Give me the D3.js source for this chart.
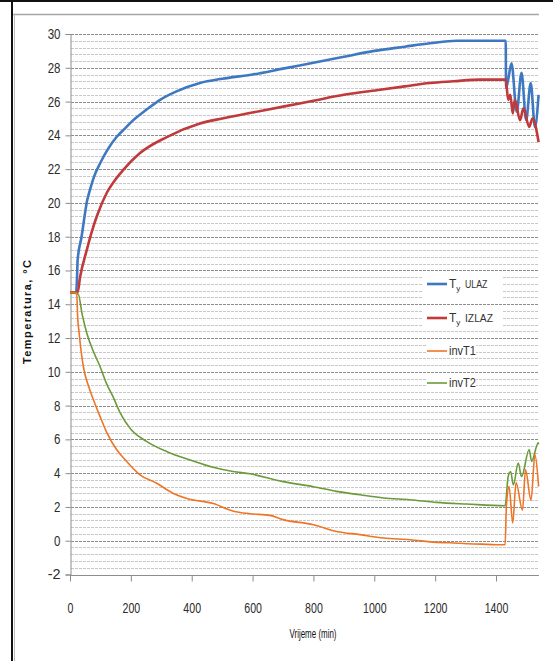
<!DOCTYPE html>
<html>
<head>
<meta charset="utf-8">
<script src="https://cdn.jsdelivr.net/npm/d3@7"></script>
<style>
  html, body { margin: 0; padding: 0; background: #fff; }
  svg { display: block; }
</style>
</head>
<body>
<svg id="chart"></svg>
<script>
// time (min) and temperature readings for each series
const ulazT = [0, 20, 23, 25, 38, 57, 66, 80, 99, 125, 153, 180, 208, 250, 296, 350, 427, 500, 600, 700, 800, 900, 1000, 1100, 1183, 1271, 1350, 1432, 1433, 1440, 1451, 1468, 1484, 1499, 1514, 1528, 1540];
const ulazV = [14.7, 14.7, 15.5, 16.6, 18.0, 20.2, 20.8, 21.6, 22.35, 23.2, 23.9, 24.4, 24.9, 25.5, 26.1, 26.6, 27.1, 27.35, 27.6, 27.95, 28.3, 28.65, 29.0, 29.25, 29.45, 29.6, 29.6, 29.6, 26.8, 27.3, 28.27, 25.4, 27.7, 24.9, 27.1, 24.5, 26.4];

const izlazT = [0, 25, 33, 55, 70, 90, 121, 150, 175, 230, 318, 427, 500, 600, 700, 800, 900, 1019, 1100, 1183, 1260, 1347, 1432, 1440, 1447, 1455, 1462, 1479, 1490, 1509, 1520, 1540];
const izlazV = [14.7, 14.7, 15.6, 17.2, 18.2, 19.3, 20.6, 21.4, 21.95, 22.95, 23.9, 24.7, 25.0, 25.35, 25.7, 26.05, 26.4, 26.7, 26.9, 27.1, 27.2, 27.3, 27.3, 26.1, 26.4, 25.3, 26.1, 24.9, 25.6, 24.5, 25.0, 23.6];

const invT1T = [0, 22, 25, 30, 44, 60, 77, 100, 121, 153, 181, 230, 285, 340, 384, 471, 537, 592, 657, 700, 800, 876, 953, 1030, 1117, 1205, 1250, 1304, 1350, 1400, 1430, 1434, 1443, 1455, 1466, 1487, 1497, 1515, 1528, 1540];
const invT1V = [14.7, 14.7, 13.3, 12.3, 10.3, 9.2, 8.35, 7.3, 6.4, 5.4, 4.8, 3.9, 3.4, 2.8, 2.5, 2.2, 1.75, 1.6, 1.5, 1.25, 0.95, 0.55, 0.36, 0.16, 0.06, -0.1, -0.12, -0.18, -0.2, -0.24, -0.24, 2.0, 3.2, 1.05, 3.45, 1.8, 4.2, 2.4, 5.1, 3.2];

const invT2T = [0, 27, 40, 55, 77, 99, 120, 142, 164, 200, 250, 319, 400, 470, 536, 592, 700, 800, 876, 953, 1030, 1117, 1205, 1304, 1430, 1440, 1448, 1457, 1473, 1484, 1509, 1517, 1539, 1540];
const invT2V = [14.7, 14.6, 13.4, 12.3, 11.2, 10.3, 9.3, 8.5, 7.6, 6.6, 5.9, 5.27, 4.75, 4.35, 4.1, 3.96, 3.5, 3.2, 2.92, 2.72, 2.53, 2.43, 2.27, 2.17, 2.07, 3.8, 4.1, 3.3, 4.6, 3.8, 5.4, 4.7, 5.8, 5.7];

const xTicks = [0, 200, 400, 600, 800, 1000, 1200, 1400];
const yTicks = [-2, 0, 2, 4, 6, 8, 10, 12, 14, 16, 18, 20, 22, 24, 26, 28, 30];

const W = 553, H = 661;
const svg = d3.select('#chart').attr('width', W).attr('height', H);
const numFont = '"Liberation Sans", Arial, sans-serif';

// outer frame
svg.append('line').attr('x1', 0).attr('x2', W).attr('y1', 1).attr('y2', 1)
  .attr('stroke', '#111').attr('stroke-width', 2);
svg.append('line').attr('x1', 12).attr('x2', 12).attr('y1', 0).attr('y2', H)
  .attr('stroke', '#111').attr('stroke-width', 2);
svg.append('line').attr('x1', 13).attr('x2', 539).attr('y1', 14.5).attr('y2', 14.5)
  .attr('stroke', '#a6a6a6').attr('stroke-width', 1.5);
svg.append('line').attr('x1', 14.5).attr('x2', 14.5).attr('y1', 14).attr('y2', H)
  .attr('stroke', '#bdbdbd').attr('stroke-width', 1);

const x = d3.scaleLinear().domain([0, 1540]).range([70, 538.6]);
const y = d3.scaleLinear().domain([-2, 30]).range([574.5, 34]);

// gridlines: minor every 0.4, major every 2
const minor = d3.range(-2, 30.001, 0.4).filter(v => Math.abs(v / 2 - Math.round(v / 2)) > 0.01);
svg.append('g').selectAll('line').data(minor).join('line')
  .attr('x1', 71).attr('x2', 539)
  .attr('y1', d => Math.round(y(d)) + 0.5).attr('y2', d => Math.round(y(d)) + 0.5)
  .attr('stroke', '#c8c8c8').attr('stroke-dasharray', '3,1');
svg.append('g').selectAll('line').data(yTicks.slice(1)).join('line')
  .attr('x1', 71).attr('x2', 539)
  .attr('y1', d => Math.round(y(d)) + 0.5).attr('y2', d => Math.round(y(d)) + 0.5)
  .attr('stroke', '#8c8c8c').attr('stroke-dasharray', '3,1');

// axes
const fmt = d => String(d);
const yAxis = svg.append('g').attr('transform', 'translate(70.5,0)')
  .call(d3.axisLeft(y).tickValues(yTicks).tickFormat(fmt).tickSize(5).tickPadding(5));
const xAxis = svg.append('g').attr('transform', 'translate(0,' + (Math.round(y(-2)) + 0.5) + ')')
  .call(d3.axisBottom(x).tickValues(xTicks).tickFormat(fmt).tickSize(6).tickPadding(22));
[yAxis, xAxis].forEach(a => {
  a.select('.domain').attr('stroke', '#8c8c8c');
  a.selectAll('.tick line').attr('stroke', '#8c8c8c');
  a.selectAll('text').attr('fill', '#2b2b2b').style('font-family', numFont).style('font-size', '14px');
});
// squeeze labels to look like the narrow Excel font
yAxis.selectAll('text').attr('textLength', d => String(d).length * 6.4).attr('lengthAdjust', 'spacingAndGlyphs');
xAxis.selectAll('text').attr('textLength', d => String(d).length * 5.9).attr('lengthAdjust', 'spacingAndGlyphs');
xAxis.select('.domain').attr('d', 'M70,0H539');

// axis titles
svg.append('text').attr('x', 313).attr('y', 638).attr('text-anchor', 'middle')
  .style('font-family', numFont).style('font-size', '12px').attr('fill', '#111')
  .attr('textLength', 47).attr('lengthAdjust', 'spacingAndGlyphs')
  .text('Vrijeme (min)');
svg.append('text').attr('transform', 'translate(31,312) rotate(-90)').attr('text-anchor', 'middle')
  .style('font-family', numFont).style('font-size', '11px')
  .style('font-weight', 'bold').attr('fill', '#111')
  .attr('textLength', 104).attr('lengthAdjust', 'spacing')
  .text('Temperatura, °C');

// series
const series = [
  { name: 'ulaz', t: ulazT, v: ulazV, color: '#3f78c2', w: 2.6 },
  { name: 'izlaz', t: izlazT, v: izlazV, color: '#c0393b', w: 2.6 },
  { name: 'invT2', t: invT2T, v: invT2V, color: '#6a9a3a', w: 1.6 },
  { name: 'invT1', t: invT1T, v: invT1V, color: '#ee7426', w: 1.6 }
];
const line = d3.line().x(d => x(d[0])).y(d => y(d[1])).curve(d3.curveMonotoneX);
svg.append('g').selectAll('path').data(series).join('path')
  .attr('d', s => line(s.t.map((t, i) => [t, s.v[i]])))
  .attr('fill', 'none')
  .attr('stroke', s => s.color)
  .attr('stroke-width', s => s.w)
  .attr('stroke-linejoin', 'round');

// legend
const legend = [
  { main: 'T', sub: 'y', rest: 'ULAZ', color: '#3f78c2', w: 2.6, y: 284, box: [423, 274, 80, 29] },
  { main: 'T', sub: 'y', rest: 'IZLAZ', color: '#c0393b', w: 2.6, y: 318, box: [423, 309, 80, 17] },
  { main: 'invT1', color: '#ee7426', w: 1.6, y: 351, box: [426, 344, 50, 14] },
  { main: 'invT2', color: '#6a9a3a', w: 1.6, y: 383, box: [426, 376, 50, 14] }
];
const lg = svg.append('g');
legend.forEach(d => {
  lg.append('rect').attr('x', d.box[0]).attr('y', d.box[1]).attr('width', d.box[2]).attr('height', d.box[3])
    .attr('fill', '#fff');
  lg.append('line').attr('x1', 427).attr('x2', 447).attr('y1', d.y).attr('y2', d.y)
    .attr('stroke', d.color).attr('stroke-width', d.w);
  const t = lg.append('text').attr('x', 449).attr('y', d.y + 4)
    .style('font-family', numFont).style('font-size', '12px').attr('fill', '#333');
  if (d.sub) {
    t.append('tspan').text(d.main);
    t.append('tspan').attr('dy', 3).style('font-size', '8px').text(d.sub);
    t.append('tspan').attr('x', 465).attr('dy', -3).style('font-size', '11px')
      .attr('textLength', d.rest.length * 5.6).attr('lengthAdjust', 'spacingAndGlyphs').text(d.rest);
  } else {
    t.attr('textLength', 27).attr('lengthAdjust', 'spacingAndGlyphs').text(d.main);
  }
});
</script>
</body>
</html>
